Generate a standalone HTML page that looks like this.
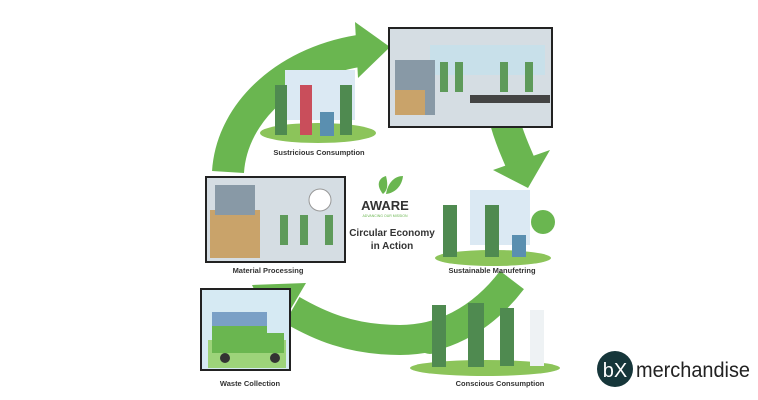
<!DOCTYPE html>
<html><head><meta charset="utf-8"><style>
body{margin:0;background:#fff;}
svg{display:block;font-family:"Liberation Sans",sans-serif;}
</style></head><body>
<svg width="758" height="400" viewBox="0 0 758 400" xmlns="http://www.w3.org/2000/svg">
<rect width="758" height="400" fill="#fff"/>
<!-- arrow 1 -->
<path d="M228 172 C232 110 290 60 365 50" fill="none" stroke="#6ab650" stroke-width="32"/>
<polygon points="355,22 390,47 358,78" fill="#6ab650"/>
<!-- arrow 2 -->
<path d="M505 122 C510 140 515 150 520 162" fill="none" stroke="#6ab650" stroke-width="30"/>
<polygon points="493,170 550,150 528,188" fill="#6ab650"/>
<!-- arrow 3 -->
<path d="M512 280 C480 322 440 340 400 340 C350 340 318 325 292 310" fill="none" stroke="#6ab650" stroke-width="30"/>
<polygon points="252,285 306,283 276,334" fill="#6ab650"/>

<!-- top-left scene -->
<rect x="285" y="70" width="70" height="50" fill="#dbe9f3"/>
<ellipse cx="318" cy="133" rx="58" ry="10" fill="#8cc45a"/>
<rect x="275" y="85" width="12" height="50" fill="#4f8a50"/><rect x="300" y="85" width="12" height="50" fill="#c94e5b"/><rect x="340" y="85" width="12" height="50" fill="#4f8a50"/>
<rect x="320" y="112" width="14" height="24" fill="#5a8fb0"/>
<text x="319" y="155" font-size="7.5" font-weight="bold" fill="#333" text-anchor="middle">Sustricious Consumption</text>

<!-- top-right frame -->
<rect x="389" y="28" width="163" height="99" fill="#d5dde3" stroke="#222" stroke-width="2"/>
<rect x="430" y="45" width="115" height="30" fill="#c8e0ea"/>
<rect x="395" y="60" width="40" height="55" fill="#8899a6"/>
<rect x="395" y="90" width="30" height="25" fill="#c9a36a"/>
<rect x="470" y="95" width="80" height="8" fill="#444"/>
<rect x="440" y="62" width="8" height="30" fill="#5e9a5a"/><rect x="455" y="62" width="8" height="30" fill="#5e9a5a"/><rect x="500" y="62" width="8" height="30" fill="#5e9a5a"/><rect x="525" y="62" width="8" height="30" fill="#5e9a5a"/>

<!-- left frame -->
<rect x="206" y="177" width="139" height="85" fill="#d5dde3" stroke="#222" stroke-width="2"/>
<rect x="210" y="210" width="50" height="48" fill="#c9a36a"/>
<rect x="215" y="185" width="40" height="30" fill="#8899a6"/>
<circle cx="320" cy="200" r="11" fill="#fff" stroke="#999"/>
<rect x="280" y="215" width="8" height="30" fill="#5e9a5a"/><rect x="300" y="215" width="8" height="30" fill="#5e9a5a"/><rect x="325" y="215" width="8" height="30" fill="#5e9a5a"/>
<text x="268" y="273" font-size="7.5" font-weight="bold" fill="#333" text-anchor="middle">Material Processing</text>

<!-- center logo -->
<path d="M383 194 C376 186 378 178 386 176 C388 184 388 190 383 194Z" fill="#6ab650"/>
<path d="M386 194 C388 182 395 176 403 176 C402 186 395 193 386 194Z" fill="#6ab650"/>
<text x="385" y="210" font-size="13" font-weight="bold" fill="#333" text-anchor="middle">AWARE</text>
<text x="385" y="217" font-size="3.5" fill="#6ab650" text-anchor="middle">ADVANCING OUR MISSION</text>
<text x="392" y="236" font-size="10" font-weight="bold" fill="#333" text-anchor="middle">Circular Economy</text>
<text x="392" y="249" font-size="10" font-weight="bold" fill="#333" text-anchor="middle">in Action</text>

<!-- right scene -->
<rect x="470" y="190" width="60" height="55" fill="#dbe9f3"/>
<ellipse cx="493" cy="258" rx="58" ry="8" fill="#8cc45a"/>
<circle cx="543" cy="222" r="12" fill="#6ab650"/>
<rect x="443" y="205" width="14" height="52" fill="#4f8a50"/><rect x="485" y="205" width="14" height="52" fill="#4f8a50"/>
<rect x="512" y="235" width="14" height="22" fill="#5a8fb0"/>
<text x="492" y="273" font-size="7.5" font-weight="bold" fill="#333" text-anchor="middle">Sustainable Manufetring</text>

<!-- bottom-left frame -->
<rect x="201" y="289" width="89" height="81" fill="#d6eaf3" stroke="#222" stroke-width="2"/>
<rect x="208" y="340" width="78" height="28" fill="#9dd37a"/>
<rect x="212" y="325" width="55" height="28" fill="#6ab650"/>
<rect x="266" y="333" width="18" height="20" fill="#6ab650"/>
<rect x="212" y="312" width="55" height="14" fill="#7aa0c6"/>
<circle cx="225" cy="358" r="5" fill="#333"/><circle cx="275" cy="358" r="5" fill="#333"/>
<text x="250" y="386" font-size="7.5" font-weight="bold" fill="#333" text-anchor="middle">Waste Collection</text>

<!-- bottom-right scene -->
<ellipse cx="485" cy="368" rx="75" ry="8" fill="#8cc45a"/>
<circle cx="430" cy="340" r="14" fill="#6ab650"/>
<rect x="432" y="305" width="14" height="62" fill="#4f8a50"/><rect x="468" y="303" width="16" height="64" fill="#4f8a50"/><rect x="500" y="308" width="14" height="58" fill="#4f8a50"/><rect x="530" y="310" width="14" height="56" fill="#eef2f4"/>
<text x="500" y="386" font-size="7.5" font-weight="bold" fill="#333" text-anchor="middle">Conscious Consumption</text>

<!-- bX logo -->
<circle cx="615" cy="369" r="18" fill="#16363a"/>
<text x="615" y="377" font-size="20" fill="#fff" text-anchor="middle">bX</text>
<text x="636" y="377" font-size="21" fill="#222" textLength="114" lengthAdjust="spacingAndGlyphs">merchandise</text>
</svg>
</body></html>
